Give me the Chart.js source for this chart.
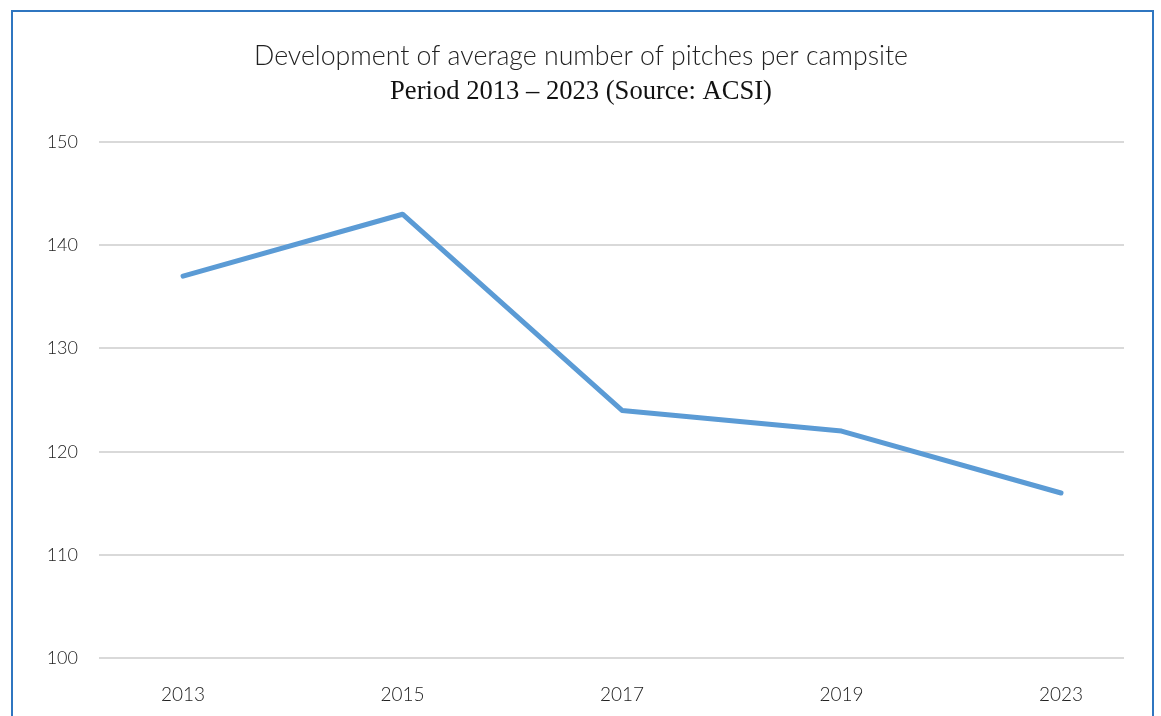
<!DOCTYPE html>
<html>
<head>
<meta charset="utf-8">
<script src="https://cdn.jsdelivr.net/npm/chart.js@4.4.0/dist/chart.umd.min.js"></script>
<style>
  html, body { margin:0; padding:0; background:#fff; }
  #wrap { position:relative; width:1161px; height:716px; overflow:hidden; }
  #frame { position:absolute; left:11px; top:10px; width:1143px; height:760px; border:2px solid #2f76c0; box-sizing:border-box; pointer-events:none; }
</style>
</head>
<body>
<div id="wrap">
  <canvas id="chart" width="1161" height="716"></canvas>
  <div id="frame"></div>
</div>
<script>
// ------------------ DATA ------------------
const years = ["2013", "2015", "2017", "2019", "2023"];
const pitches = [137, 143, 124, 122, 116];
const yTicks = [100, 110, 120, 130, 140, 150];

const titleText = "Development of average number of pitches per campsite";
const subtitleText = "Period 2013 \u2013 2023 (Source: ACSI)";

// ------------------ CHART ------------------
const points = pitches.map((v, i) => ({ x: i, y: v }));

const ctx = document.getElementById("chart").getContext("2d");
new Chart(ctx, {
  type: "line",
  data: {
    datasets: [{
      data: points,
      borderColor: "#5b9bd5",
      borderWidth: 5,
      pointRadius: 0,
      tension: 0,
      fill: false,
      borderCapStyle: "round",
      borderJoinStyle: "round"
    }]
  },
  options: {
    responsive: false,
    animation: false,
    // left/right padding keeps the titles centred around x=581;
    // the year labels run close to the bottom edge of the picture
    layout: { padding: { left: 38, right: 37, top: 0, bottom: -7 } },
    plugins: {
      legend: { display: false },
      tooltip: { enabled: false },
      title: {
        display: true,
        text: titleText,
        color: "#222",
        font: { family: "Lato", weight: 300, size: 26.7 },
        padding: { top: 40, bottom: 4 }
      },
      subtitle: {
        display: true,
        text: subtitleText,
        color: "#111",
        font: { family: "Liberation Serif", size: 26.6 },
        padding: { top: 0, bottom: 34 }
      }
    },
    scales: {
      x: {
        type: "linear",
        min: -0.383,
        max: 4.287,
        grid: { display: false },
        border: { display: false },
        afterBuildTicks: (axis) => { axis.ticks = years.map((y, i) => ({ value: i })); },
        ticks: {
          color: "#222",
          font: { family: "Lato", weight: 300, size: 19 },
          padding: 17,
          maxRotation: 0,
          callback: (v) => years[v]
        }
      },
      y: {
        min: 100,
        max: 150,
        afterBuildTicks: (axis) => { axis.ticks = yTicks.map(v => ({ value: v })); },
        afterFit: (axis) => { axis.width = 61; },
        grid: { color: "#d9d9d9", lineWidth: 2, drawTicks: false },
        border: { display: false },
        ticks: {
          color: "#222",
          font: { family: "Lato", weight: 300, size: 18 },
          padding: 21
        }
      }
    }
  }
});
</script>
</body>
</html>
